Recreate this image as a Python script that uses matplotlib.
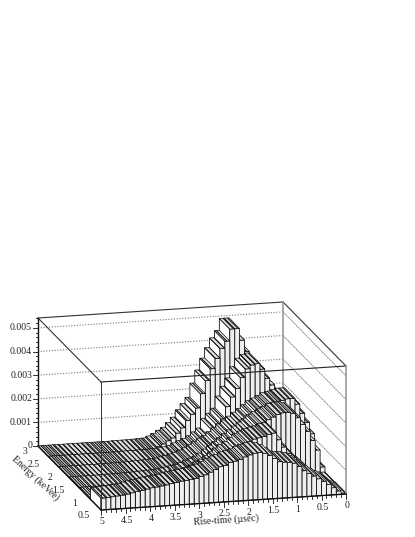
import matplotlib
matplotlib.use("Agg")
import matplotlib.pyplot as plt
from matplotlib.patches import Polygon
import numpy as np

plt.rcParams['font.family'] = ['Liberation Serif', 'DejaVu Sans']
plt.rcParams['hatch.linewidth'] = 0.7

# Lego heights per energy row (front row first), 50 rise-time bins of 0.1 from 0 to 5
row0 = [.00005,.00015,.0003,.00045,.0006,.00072,.00085,.00097,.0011,.0013,.00145,.00150,.00152,.00155,.0017,.00185,.00195,.0020,.00198,.00192,.00185,.00175,.0017,.00165,.00155,.0015,.0014,.0013,.0012,.00115,.00108,.00104,.00102,.001,.00096,.00092,.00088,.00085,.00082,.0008,.00076,.00072,.00068,.00064,.0006,.00057,.00055,.00053,.00051,.0005]
row1 = [.00003,.00005,.0001,.00015,.0004,.0006,.0008,.00095,.0012,.0014,.00168,.002,.0023,.00226,.00218,.00214,.0021,.002,.0019,.00175,.0016,.00148,.00135,.0012,.00105,.00092,.00082,.0007,.0006,.0005,.00045,.0004,.00036,.00032,.00028,.00024,.0002,.00018,.00016,.00014,.00012,.0001,.00009,.00008,.00007,.00006,.00006,.00006,.00006,.00006]
row2 = [.00025,.00098,.0014,.0018,.0021,.0024,.0026,.00265,.00265,.0026,.0025,.0024,.0023,.0022,.00205,.0019,.00175,.0016,.00145,.0013,.00115,.001,.00085,.0007,.00058,.0005,.00042,.00035,.00028,.00024,.0002,.00017,.00014,.00012,.00011,.0001,.00009,.00008,.00007,.00007,.00006,.00006,.00006,.00006,.00005,.00005,.00005,.00005,.00005,.00005]
row3 = [.0012,.0017,.0021,.0025,.00275,.00275,.0027,.00265,.0026,.0025,.0024,.0023,.00215,.002,.00185,.0017,.00155,.0014,.00125,.0011,.00095,.00085,.00072,.0006,.00048,.0004,.00032,.00026,.00021,.00016,.00012,.0001,.00009,.00008,.00007,.00006,.00005,.00005,.00004,.00004,.00004,.00004,.00003,.00003,.00003,.00003,.00003,.00003,.00003,.00003]
row4 = [.0008,.0011,.0015,.0019,.0023,.0026,.0029,.0032,.0036,.00384,.0038,.00365,.0033,.00284,.0025,.0021,.0016,.0014,.0012,.0008,.00065,.0005,.0004,.00032,.00024,.00015,.0001,.00008,.00006,.00005,.00004,.00004,.00003,.00003,.00003,.00003,.00002,.00002,.00002,.00002,.00002,.00002,.00002,.00002,.00002,.00002,.00002,.00002,.00002,.00002]
row5 = [.0006,.0012,.0017,.0021,.0024,.0026,.0028,.003,.0034,.0039,.0044,.0049,.0049,.0044,.0041,.0037,.00327,.00278,.00224,.00165,.0014,.00115,.00085,.00064,.00045,.00034,.00022,.00012,.00005,.00004,.00003,.00002,.00002,.00002,.00002,.00001,.00001,.00001,.00001,.00001,.00001,.00001,.00001,.00001,.00001,.00001,.00001,.00001,.00001,.00001]
rows = [row0, row1, row2, row3, row4, row5]

x_ticks = [0, 0.5, 1, 1.5, 2, 2.5, 3, 3.5, 4, 4.5, 5]
e_ticks = [0.5, 1, 1.5, 2, 2.5, 3]
z_ticks = [0, 0.001, 0.002, 0.003, 0.004, 0.005]
x_title = "Rise-time (\u00b5sec)"
e_title = "Energy (keVee)"

X_MAX, E_MIN, E_MAX, Z_MAX = 5.0, 0.5, 3.0, 0.00542
ORIGIN = np.array([346.0, 494.0])
VX = np.array([-245.0, 16.0])    # pixels over the full rise-time range
VE = np.array([-63.0, -64.0])    # pixels over the full energy range
VZ = np.array([0.0, -128.0])     # pixels over the full height range


def proj(x, e, z):
    return ORIGIN + VX * (x / X_MAX) + VE * ((e - E_MIN) / (E_MAX - E_MIN)) + VZ * (z / Z_MAX)


fig = plt.figure(figsize=(4.15, 5.37), dpi=100)
ax = fig.add_axes([0, 0, 1, 1])
ax.set_xlim(0, 415)
ax.set_ylim(537, 0)
ax.axis('off')

INK = '#111111'
GRID = '#777777'

# back walls: height grid lines
for z in z_ticks[1:]:
    a, b, c = proj(X_MAX, E_MAX, z), proj(0, E_MAX, z), proj(0, E_MIN, z)
    ax.plot([a[0], b[0]], [a[1], b[1]], color=GRID, lw=0.8, ls=(0, (1, 1.5)), zorder=1)
    ax.plot([b[0], c[0]], [b[1], c[1]], color=GRID, lw=0.6, ls=(0, (2, 0.8)), zorder=1)

# back wall frame
for p, q, col, lw in [((X_MAX, E_MAX, Z_MAX), (0, E_MAX, Z_MAX), '#333333', 0.8),
                      ((0, E_MAX, Z_MAX), (0, E_MIN, Z_MAX), '#333333', 0.8),
                      ((0, E_MAX, 0), (0, E_MAX, Z_MAX), '#999999', 1.2),
                      ((X_MAX, E_MAX, Z_MAX), (X_MAX, E_MIN, Z_MAX), '#333333', 0.8)]:
    a, b = proj(*p), proj(*q)
    ax.plot([a[0], b[0]], [a[1], b[1]], color=col, lw=lw, zorder=1)

# lego boxes, painted from the back row to the front and from x=0 to x=5
n_rows, n_bins = len(rows), len(rows[0])
de = (E_MAX - E_MIN) / n_rows
dx = X_MAX / n_bins
zo = 2.0
EDGE = dict(edgecolor='black', linewidth=0.55)
for j in range(n_rows - 1, -1, -1):
    e0, e1 = E_MIN + j * de, E_MIN + (j + 1) * de
    for i in range(n_bins):
        x0, x1 = i * dx, (i + 1) * dx
        h = rows[j][i]
        side = [proj(x1, e0, 0), proj(x1, e1, 0), proj(x1, e1, h), proj(x1, e0, h)]
        front = [proj(x0, e0, 0), proj(x1, e0, 0), proj(x1, e0, h), proj(x0, e0, h)]
        top = [proj(x0, e0, h), proj(x1, e0, h), proj(x1, e1, h), proj(x0, e1, h)]
        ax.add_patch(Polygon(side, closed=True, facecolor='white', zorder=zo, **EDGE))
        ax.add_patch(Polygon(front, closed=True, facecolor='#eeeeee', zorder=zo, **EDGE))
        ax.add_patch(Polygon(top, closed=True, facecolor='#dddddd', edgecolor='black', linewidth=0.45,
                             hatch='\\' * 7, zorder=zo))
        zo += 0.001

# frame in front of the lego
TOP = zo + 1
for p, q, col, lw in [((X_MAX, E_MIN, Z_MAX), (0, E_MIN, Z_MAX), '#222222', 0.8),
                      ((X_MAX, E_MIN, 0), (X_MAX, E_MIN, Z_MAX), '#333333', 0.7),
                      ((0, E_MIN, 0), (0, E_MIN, Z_MAX), '#999999', 1.2),
                      ((X_MAX, E_MAX, 0), (X_MAX, E_MAX, Z_MAX), '#111111', 1.0),
                      ((X_MAX, E_MIN, 0), (0, E_MIN, 0), '#111111', 1.0),
                      ((X_MAX, E_MIN, 0), (X_MAX, E_MAX, 0), '#111111', 1.0)]:
    a, b = proj(*p), proj(*q)
    ax.plot([a[0], b[0]], [a[1], b[1]], color=col, lw=lw, zorder=TOP)

# z axis
for k in range(0, 28):
    z = k * 0.0002
    if z > Z_MAX:
        break
    a = proj(X_MAX, E_MAX, z)
    L = 5 if k % 5 == 0 else 2.5
    ax.plot([a[0] - L, a[0]], [a[1], a[1]], color=INK, lw=0.6, zorder=TOP)
for z in z_ticks:
    a = proj(X_MAX, E_MAX, z)
    ax.text(a[0] - 6, a[1], f"{z:g}", ha='right', va='center', fontsize=7, color='#222222', zorder=TOP)

# x axis
for k in range(0, 51):
    a = proj(k * 0.1, E_MIN, 0)
    L = 4.5 if k % 5 == 0 else 2.5
    ax.plot([a[0], a[0]], [a[1], a[1] + L], color=INK, lw=0.6, zorder=TOP)
for v in x_ticks:
    a = proj(v, E_MIN, 0)
    ax.text(a[0] + 1, a[1] + 12, f"{v:g}", ha='center', va='center', fontsize=7, color='#222222', zorder=TOP)
ax.text(226, 520, x_title, ha='center', va='center', rotation=3.7, rotation_mode='anchor', fontsize=7, color='#222222', zorder=TOP)

# energy axis
for v in e_ticks:
    a = proj(X_MAX, v, 0)
    ax.text(a[0] - 11, a[1] + 6, f"{v:g}", ha='right', va='center', fontsize=7, color='#222222', zorder=TOP)
ax.text(35, 478, e_title, ha='center', va='center', rotation=-43, rotation_mode='anchor', fontsize=7, color='#222222', zorder=TOP)

fig.savefig('out.png', dpi=100)
